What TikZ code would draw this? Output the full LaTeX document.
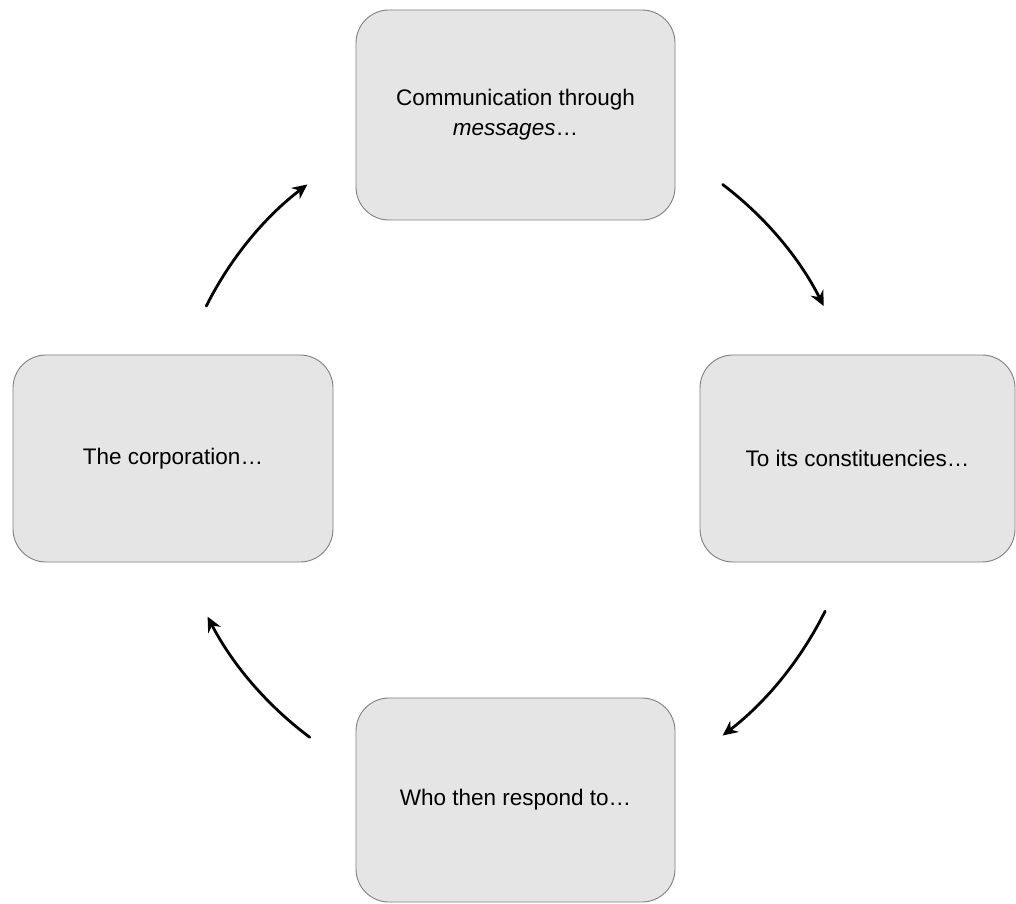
\documentclass[tikz,border=0pt]{standalone}
\usepackage{fontspec}
\setmainfont{Liberation Sans}
\usetikzlibrary{arrows.meta}
\definecolor{boxfill}{HTML}{E5E5E5}
\definecolor{boxline}{HTML}{808080}
\begin{document}
\begin{tikzpicture}[x=1pt,y=1pt,
  stage/.style={draw=boxline, fill=boxfill, line width=0.9pt,
    rounded corners=33pt, inner sep=0pt, align=center,
    font=\fontsize{22.5}{30}\selectfont},
  cycle arrow/.style={line width=2.8pt, line cap=round,
    -{Stealth[length=15pt,width=14pt,inset=5pt]}, bend left=13, looseness=0.87}]
  \fill[white] (0,0) rectangle (1016,903);
  \useasboundingbox (0,0) rectangle (1016,903);

  % the four stages of the cycle
  \node[stage, minimum width=319pt, minimum height=210pt] (msg) at (515.5,788)
    {Communication through\\\textit{messages}\ldots};
  \node[stage, minimum width=315pt, minimum height=207pt] (cons) at (857.5,444.5)
    {To its constituencies\ldots};
  \node[stage, minimum width=319pt, minimum height=204pt] (resp) at (515.5,103)
    {Who then respond to\ldots};
  \node[stage, minimum width=320pt, minimum height=207pt] (corp) at (173,444.5)
    {The corporation\ldots};

  % arrows run clockwise on a circle around the centre
  \coordinate (hub) at (515,443);
  \coordinate (a1s) at ([shift={(53:345)}]hub);
  \coordinate (a1e) at ([shift={(26.5:345)}]hub);
  \coordinate (a2s) at ([shift={(-26:345)}]hub);
  \coordinate (a2e) at ([shift={(-53:345)}]hub);
  \coordinate (a3s) at ([shift={(-126.5:345)}]hub);
  \coordinate (a3e) at ([shift={(-153:345)}]hub);
  \coordinate (a4s) at ([shift={(153.5:345)}]hub);
  \coordinate (a4e) at ([shift={(127:345)}]hub);

  \draw[cycle arrow] (a1s) to (a1e);
  \draw[cycle arrow] (a2s) to (a2e);
  \draw[cycle arrow] (a3s) to (a3e);
  \draw[cycle arrow] (a4s) to (a4e);
\end{tikzpicture}
\end{document}
